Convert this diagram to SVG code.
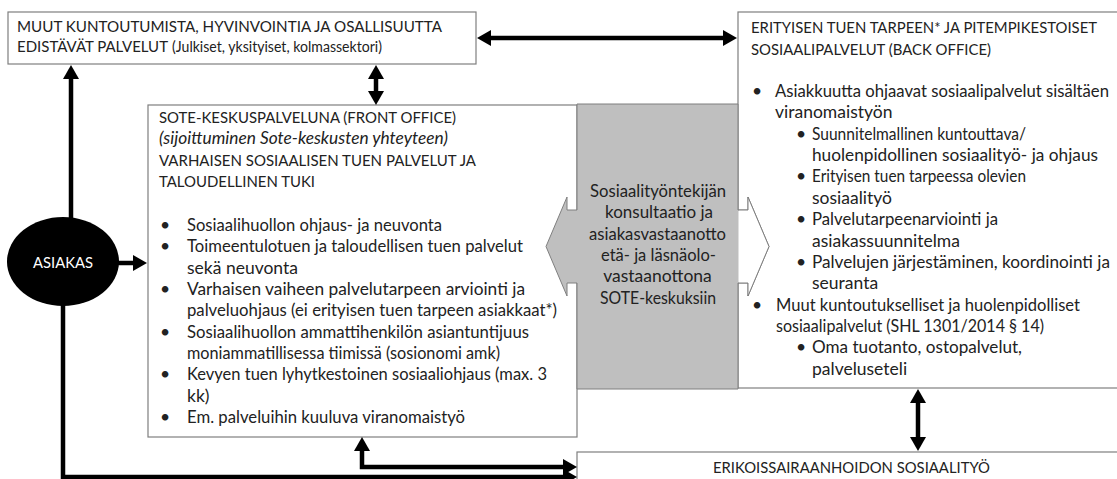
<svg xmlns="http://www.w3.org/2000/svg" width="1117" height="479" viewBox="0 0 1117 479">
<style>
.box{fill:#fff;stroke:#7f7f7f;stroke-width:1.2}
.t{font-family:Lato,"Open Sans","Liberation Sans",sans-serif;font-size:17.5px;fill:#222}
.u{font-size:16px}
.s{font-size:14.5px}
.i{font-style:italic}
.c{text-anchor:middle}
.w{fill:#fff;font-size:16px}
.con{fill:none;stroke:#000;stroke-width:4.5;marker-end:url(#ah)}
.dbl{marker-start:url(#ah)}
</style>
<defs>
<marker id="ah" viewBox="0 0 14 16" refX="6" refY="8" markerWidth="14" markerHeight="16" markerUnits="userSpaceOnUse" orient="auto-start-reverse">
<path d="M0,0 L14,8 L0,16 z" fill="#000"/>
</marker>
</defs>

<g id="top-box">
<rect class="box" x="8" y="12" width="468" height="52"/>
<text class="t u" x="17" y="32" textLength="425" lengthAdjust="spacingAndGlyphs">MUUT KUNTOUTUMISTA, HYVINVOINTIA JA OSALLISUUTTA</text>
<text class="t u" x="17" y="52" textLength="151" lengthAdjust="spacingAndGlyphs">EDISTÄVÄT PALVELUT</text>
<text class="t s" x="172" y="52" textLength="210" lengthAdjust="spacingAndGlyphs">(Julkiset, yksityiset, kolmassektori)</text>
</g>

<g id="front-office">
<rect class="box" x="148" y="105" width="429" height="332"/>
<g class="t">
<text class="u" x="159" y="123" textLength="297" lengthAdjust="spacingAndGlyphs">SOTE-KESKUSPALVELUNA (FRONT OFFICE)</text>
<text class="i" x="159" y="144.3" textLength="289" lengthAdjust="spacingAndGlyphs">(sijoittuminen Sote-keskusten yhteyteen)</text>
<text class="u" x="159" y="165.6" textLength="317" lengthAdjust="spacingAndGlyphs">VARHAISEN SOSIAALISEN TUEN PALVELUT JA</text>
<text class="u" x="159" y="187" textLength="156" lengthAdjust="spacingAndGlyphs">TALOUDELLINEN TUKI</text>
<text x="160" y="231">•</text><text x="187" y="231" textLength="255" lengthAdjust="spacingAndGlyphs">Sosiaalihuollon ohjaus- ja neuvonta</text>
<text x="160" y="252.3">•</text><text x="187" y="252.3" textLength="336" lengthAdjust="spacingAndGlyphs">Toimeentulotuen ja taloudellisen tuen palvelut</text>
<text x="187" y="273.6">sekä neuvonta</text>
<text x="160" y="295">•</text><text x="187" y="295" textLength="338" lengthAdjust="spacingAndGlyphs">Varhaisen vaiheen palvelutarpeen arviointi ja</text>
<text x="187" y="316.3" textLength="370" lengthAdjust="spacingAndGlyphs">palveluohjaus (ei erityisen tuen tarpeen asiakkaat*)</text>
<text x="160" y="337.6">•</text><text x="187" y="337.6" textLength="342" lengthAdjust="spacingAndGlyphs">Sosiaalihuollon ammattihenkilön asiantuntijuus</text>
<text x="187" y="359" textLength="313" lengthAdjust="spacingAndGlyphs">moniammatillisessa tiimissä (sosionomi amk)</text>
<text x="160" y="380.3">•</text><text x="187" y="380.3" textLength="360" lengthAdjust="spacingAndGlyphs">Kevyen tuen lyhytkestoinen sosiaaliohjaus (max. 3</text>
<text x="187" y="401.6">kk)</text>
<text x="160" y="423">•</text><text x="187" y="423" textLength="278" lengthAdjust="spacingAndGlyphs">Em. palveluihin kuuluva viranomaistyö</text>
</g>
</g>

<g id="back-office">
<rect class="box" x="738" y="12" width="390" height="376"/>
<g class="t">
<text x="751" y="33" font-size="15" textLength="346" lengthAdjust="spacingAndGlyphs">ERITYISEN TUEN TARPEEN* JA PITEMPIKESTOISET</text>
<text class="u" x="751" y="55" textLength="240" lengthAdjust="spacingAndGlyphs">SOSIAALIPALVELUT (BACK OFFICE)</text>
<text x="752" y="97">•</text><text x="775" y="97" font-size="16.5" textLength="334" lengthAdjust="spacingAndGlyphs">Asiakkuutta ohjaavat sosiaalipalvelut sisältäen</text>
<text x="775" y="118.4">viranomaistyön</text>
<text x="796" y="139.7">•</text><text x="812" y="139.7" textLength="214" lengthAdjust="spacingAndGlyphs">Suunnitelmallinen kuntouttava/</text>
<text x="812" y="161" textLength="286" lengthAdjust="spacingAndGlyphs">huolenpidollinen sosiaalityö- ja ohjaus</text>
<text x="796" y="182.4">•</text><text x="812" y="182.4" textLength="214" lengthAdjust="spacingAndGlyphs">Erityisen tuen tarpeessa olevien</text>
<text x="812" y="203.8">sosiaalityö</text>
<text x="796" y="225.1">•</text><text x="812" y="225.1" textLength="186" lengthAdjust="spacingAndGlyphs">Palvelutarpeenarviointi ja</text>
<text x="812" y="246.5">asiakassuunnitelma</text>
<text x="796" y="267.8">•</text><text x="812" y="267.8" font-size="17" textLength="298" lengthAdjust="spacingAndGlyphs">Palvelujen järjestäminen, koordinointi ja</text>
<text x="812" y="289.2">seuranta</text>
<text x="752" y="310.5">•</text><text x="776" y="310.5" textLength="304" lengthAdjust="spacingAndGlyphs">Muut kuntoutukselliset ja huolenpidolliset</text>
<text x="776" y="331.9" textLength="268" lengthAdjust="spacingAndGlyphs">sosiaalipalvelut (SHL 1301/2014 § 14)</text>
<text x="796" y="353.2">•</text><text x="812" y="353.2" textLength="210" lengthAdjust="spacingAndGlyphs">Oma tuotanto, ostopalvelut,</text>
<text x="812" y="374.6">palveluseteli</text>
</g>
</g>

<g id="consultation">
<path d="M577,104 H738 V210 H748 V197 L769,246.5 L748,296 V283 H738 V389 H577 V283 H567 V296 L546,246.5 L567,197 V210 H577 Z" fill="#bfbfbf" stroke="#7f7f7f" stroke-width="1"/>
<path d="M738.5,210 H748 V197 L769,246.5 L748,296 V283 H738.5 Z" fill="#fff" stroke="none"/>
<path d="M738,210 H748 V197 L769,246.5 L748,296 V283 H738" fill="none" stroke="#7f7f7f" stroke-width="1"/>
<g class="t c">
<text x="658" y="197" textLength="136" lengthAdjust="spacingAndGlyphs">Sosiaalityöntekijän</text>
<text x="659" y="218.3" textLength="108" lengthAdjust="spacingAndGlyphs">konsultaatio ja</text>
<text x="657.5" y="239.6" textLength="137" lengthAdjust="spacingAndGlyphs">asiakasvastaanotto</text>
<text x="658.5" y="261" textLength="115" lengthAdjust="spacingAndGlyphs">etä- ja läsnäolo-</text>
<text x="657.5" y="282.3">vastaanottona</text>
<text x="658" y="303.6" textLength="116" lengthAdjust="spacingAndGlyphs">SOTE-keskuksiin</text>
</g>
</g>

<g id="erikois">
<rect class="box" x="577" y="452" width="551" height="40"/>
<text class="t u" x="713" y="473" textLength="277" lengthAdjust="spacingAndGlyphs">ERIKOISSAIRAANHOIDON SOSIAALITYÖ</text>
</g>

<g id="asiakas">
<ellipse cx="63" cy="261.5" rx="56" ry="44.5" fill="#000"/>
<text class="t w" x="33" y="268" textLength="60" lengthAdjust="spacingAndGlyphs">ASIAKAS</text>
</g>

<g id="connectors">
<path class="con dbl" d="M485,38 H729"/>
<path class="con dbl" d="M376,73 V97"/>
<path class="con" d="M71,218 V73"/>
<path class="con" d="M118,263 H139"/>
<path class="con" d="M63,305 V477 H569"/>
<path class="con dbl" d="M362,445 V467 H569"/>
<path class="con dbl" d="M918,397 V443"/>
</g>
</svg>
